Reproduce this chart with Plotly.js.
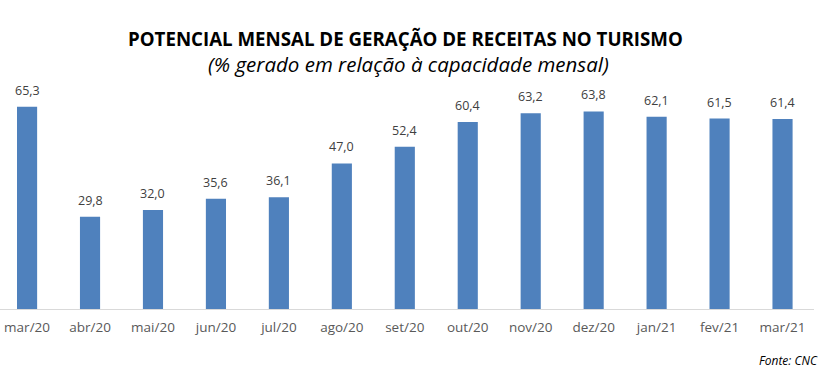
<!DOCTYPE html>
<html><head><meta charset="utf-8">
<script src="https://cdn.plot.ly/plotly-3.0.1.min.js"></script>
<style>html,body{margin:0;padding:0;background:#fff}#c{width:831px;height:375px}</style>
</head><body><div id="c"></div>
<script>
const categories = ["mar/20","abr/20","mai/20","jun/20","jul/20","ago/20","set/20","out/20","nov/20","dez/20","jan/21","fev/21","mar/21"];
const values = [65.3,29.8,32.0,35.6,36.1,47.0,52.4,60.4,63.2,63.8,62.1,61.5,61.4];
const labels = values.map(v => v.toFixed(1).replace('.', ','));
const titleText = "POTENCIAL MENSAL DE GERAÇÃO DE RECEITAS NO TURISMO";
const subtitleText = "(% gerado em relação à capacidade mensal)";
const sourceText = "Fonte: CNC";

const fontFam = "'Open Sans', sans-serif";
const plotTop = 70, plotBottom = 309;
const valueAnns = categories.map((c, i) => ({
  x: c, y: values[i], xref: 'x', yref: 'y', text: labels[i],
  showarrow: false, yanchor: 'bottom', xanchor: 'center', yshift: 6,
  font: {family: fontFam, size: 12.5, color: '#404040'}
}));
Plotly.newPlot('c', [{
  type: 'bar', x: categories, y: values,
  marker: {color: '#4f81bd'}, hoverinfo: 'none'
}], {
  width: 831, height: 375,
  margin: {l: 0, r: 17, t: plotTop, b: 375 - plotBottom},
  paper_bgcolor: '#fff', plot_bgcolor: '#fff',
  bargap: 0.68,
  showlegend: false,
  xaxis: {range: [-0.43, 12.5], showline: true, linecolor: '#d9d9d9', linewidth: 1,
    ticks: '', ticklabelstandoff: 6, tickfont: {family: fontFam, size: 13.5, color: '#595959'}, showgrid: false},
  yaxis: {range: [0, 77.2], visible: false, showgrid: false, zeroline: false},
  annotations: valueAnns.concat([
    {text: '<b>' + titleText + '</b>', xref: 'paper', yref: 'paper', x: 405/814, y: 1, yshift: plotTop - 38,
     xanchor: 'center', yanchor: 'middle', showarrow: false,
     font: {family: fontFam, size: 18.7, color: '#000'}},
    {text: '<i>' + subtitleText + '</i>', xref: 'paper', yref: 'paper', x: 408/814, y: 1, yshift: plotTop - 64,
     xanchor: 'center', yanchor: 'middle', showarrow: false,
     font: {family: fontFam, size: 20.5, color: '#000'}},
    {text: '<i>' + sourceText + '</i>', xref: 'paper', yref: 'paper', x: 1, y: 0, xshift: 6, yshift: -(360 - plotBottom),
     xanchor: 'right', yanchor: 'middle', showarrow: false,
     font: {family: fontFam, size: 12, color: '#000'}}
  ])
}, {staticPlot: true});
</script></body></html>
